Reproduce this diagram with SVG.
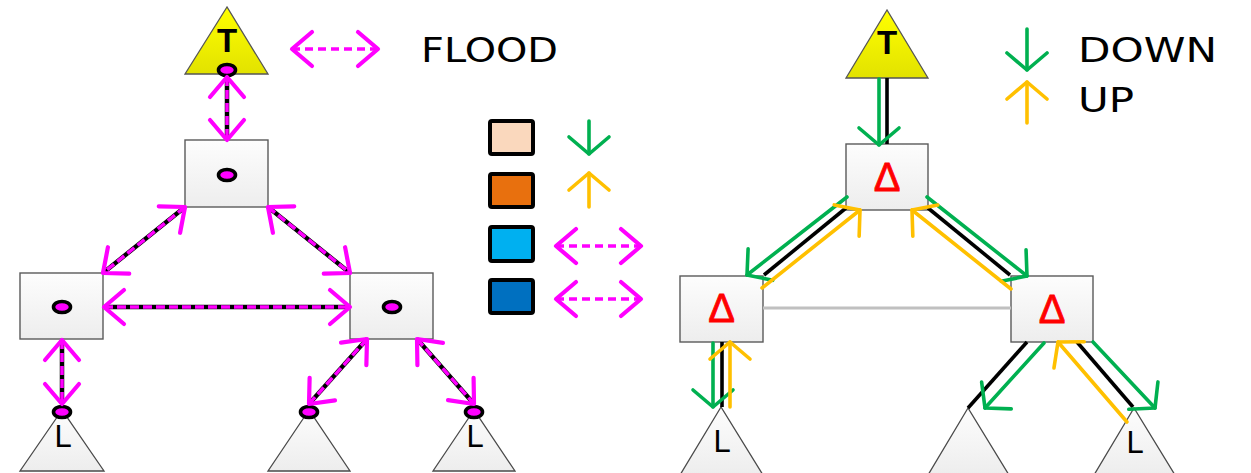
<svg xmlns="http://www.w3.org/2000/svg" width="1251" height="473" viewBox="0 0 1251 473">
  <defs>
    <linearGradient id="gBox" x1="0" y1="0" x2="0" y2="1">
      <stop offset="0" stop-color="#fdfdfd"/>
      <stop offset="1" stop-color="#ededed"/>
    </linearGradient>
    <linearGradient id="gTop" x1="0" y1="0" x2="0" y2="1">
      <stop offset="0" stop-color="#ffff00"/>
      <stop offset="1" stop-color="#e2e200"/>
    </linearGradient>
    <marker id="mMag" markerUnits="userSpaceOnUse" markerWidth="50" markerHeight="50" viewBox="-25 -25 50 50" refX="0" refY="0" orient="auto-start-reverse" overflow="visible">
      <path d="M-20,-17 L0,0 L-20,17" fill="none" stroke="#ff00ff" stroke-width="4.2" stroke-linecap="round" stroke-linejoin="round"/>
    </marker>
    <marker id="mGreen" markerUnits="userSpaceOnUse" markerWidth="50" markerHeight="50" viewBox="-25 -25 50 50" refX="0" refY="0" orient="auto" overflow="visible">
      <path d="M-17,-20 L0,0 L-17,20" fill="none" stroke="#00b050" stroke-width="3.6" stroke-linecap="round" stroke-linejoin="round"/>
    </marker>
    <marker id="mYellow" markerUnits="userSpaceOnUse" markerWidth="50" markerHeight="50" viewBox="-25 -25 50 50" refX="0" refY="0" orient="auto" overflow="visible">
      <path d="M-17,-20 L0,0 L-17,20" fill="none" stroke="#ffc000" stroke-width="3.6" stroke-linecap="round" stroke-linejoin="round"/>
    </marker>
    <style>
      .box { fill: url(#gBox); stroke: #5a5a5a; stroke-width: 1.4; }
      .tri { fill: url(#gBox); stroke: #4a4a4a; stroke-width: 1.3; }
      .top { fill: url(#gTop); stroke: #555; stroke-width: 1.3; }
      .dot { fill: #ff00ff; stroke: #000; stroke-width: 3.6; }
      .lbl { font-family: "Liberation Sans", Arial, sans-serif; fill: #000; text-anchor: middle; }
      .tb { font-weight: bold; font-size: 33px; }
      .lf { font-size: 31px; }
      .delta { font-family: "Liberation Sans", Arial, sans-serif; font-size: 40px; fill: #ff0000; stroke: #ff0000; stroke-width: 0.8; text-anchor: middle; }
      .word { font-family: "DejaVu Sans", "Liberation Sans", sans-serif; font-size: 34px; fill: #000; }
      .blk { stroke: #000; stroke-width: 4.5; fill: none; }
      .mag { stroke: #ff00ff; stroke-width: 3.5; stroke-dasharray: 9 4; fill: none; marker-start: url(#mMag); marker-end: url(#mMag); }
      .magleg { stroke: #ff00ff; stroke-width: 3.6; stroke-dasharray: 8 5; fill: none; marker-start: url(#mMag); marker-end: url(#mMag); }
      .rb { stroke: #000; stroke-width: 3.6; fill: none; }
      .dn { stroke: #00b050; stroke-width: 3.6; fill: none; stroke-linecap: round; marker-end: url(#mGreen); }
      .up { stroke: #ffc000; stroke-width: 3.6; fill: none; stroke-linecap: round; marker-end: url(#mYellow); }
      .gray { stroke: #c0c0c0; stroke-width: 3; fill: none; }
      .key { stroke: #000; stroke-width: 4; }
    </style>
  </defs>

  <rect width="1251" height="473" fill="#ffffff"/>

  <!-- Flood tree (left) -->
  <g id="flood-top">
    <polygon class="top" points="227,7 185,74 268,74"/>
    <text class="lbl tb" x="227" y="52">T</text>
    <ellipse class="dot" cx="227" cy="70" rx="8.5" ry="5.5"/>
  </g>
  <g id="flood-root">
    <rect class="box" x="185" y="140" width="83" height="67"/>
    <ellipse class="dot" cx="227" cy="175" rx="8.5" ry="5.5"/>
  </g>
  <g id="flood-left">
    <rect class="box" x="20" y="273" width="83" height="66"/>
    <ellipse class="dot" cx="62" cy="307" rx="8.5" ry="5.5"/>
  </g>
  <g id="flood-right">
    <rect class="box" x="350" y="273" width="83" height="66"/>
    <ellipse class="dot" cx="392" cy="307" rx="8.5" ry="5.5"/>
  </g>
  <g id="flood-leaf-a">
    <polygon class="tri" points="62,410 20,471 104,471"/>
    <text class="lbl lf" x="63" y="447">L</text>
    <ellipse class="dot" cx="62" cy="412" rx="8.5" ry="5.5"/>
  </g>
  <g id="flood-leaf-b">
    <polygon class="tri" points="309,410 268,471 350,471"/>
    <ellipse class="dot" cx="309" cy="412" rx="8.5" ry="5.5"/>
  </g>
  <g id="flood-leaf-c">
    <polygon class="tri" points="474,410 433,471 515,471"/>
    <text class="lbl lf" x="475" y="447">L</text>
    <ellipse class="dot" cx="474" cy="412" rx="8.5" ry="5.5"/>
  </g>

  <!-- Legend -->
  <g id="legend-flood">
    <line class="magleg" x1="292" y1="49" x2="378" y2="49"/>
    <text class="word" x="421" y="62" textLength="137" lengthAdjust="spacingAndGlyphs">FLOOD</text>
  </g>
  <g id="legend-keys">
    <rect class="key" x="490" y="121" width="43" height="33" rx="2" fill="#fad8bd"/>
    <rect class="key" x="490" y="174" width="43" height="33" rx="2" fill="#e8700e"/>
    <rect class="key" x="490" y="227" width="43" height="34" rx="2" fill="#00b0f0"/>
    <rect class="key" x="490" y="280" width="43" height="33" rx="2" fill="#0070c0"/>
    <line class="dn" x1="589" y1="121" x2="589" y2="154"/>
    <line class="up" x1="589" y1="207" x2="589" y2="173"/>
    <line class="magleg" x1="556" y1="246" x2="641" y2="246"/>
    <line class="magleg" x1="556" y1="299" x2="641" y2="299"/>
  </g>
  <g id="legend-dirs">
    <line class="dn" x1="1027" y1="29" x2="1027" y2="70"/>
    <line class="up" x1="1027" y1="123" x2="1027" y2="82"/>
    <text class="word" x="1078" y="62" textLength="139" lengthAdjust="spacingAndGlyphs">DOWN</text>
    <text class="word" x="1078" y="112" textLength="56" lengthAdjust="spacingAndGlyphs">UP</text>
  </g>

  <!-- Delta tree (right) -->
  <g id="delta-top">
    <polygon class="top" points="887,10 846,78 928,78"/>
    <text class="lbl tb" x="887" y="54" font-size="31">T</text>
  </g>
  <g id="delta-root">
    <rect class="box" x="846" y="144" width="82" height="66"/>
    <text class="delta" x="887" y="191">Δ</text>
  </g>
  <g id="delta-left">
    <rect class="box" x="680" y="276" width="83" height="66"/>
    <text class="delta" x="721.5" y="322">Δ</text>
  </g>
  <g id="delta-right">
    <rect class="box" x="1011" y="276" width="82" height="66"/>
    <text class="delta" x="1052" y="323">Δ</text>
  </g>
  <g id="delta-leaf-a">
    <polygon class="tri" points="721,407 680,475 763,475"/>
    <text class="lbl lf" x="722" y="452">L</text>
  </g>
  <g id="delta-leaf-b">
    <polygon class="tri" points="968,408 928,475 1009,475"/>
  </g>
  <g id="delta-leaf-c">
    <polygon class="tri" points="1134,408 1094,475 1175,475"/>
    <text class="lbl lf" x="1135" y="453">L</text>
  </g>

  <!-- Connectors -->
  <g id="connectors">
    <!-- flood edges: black line under dashed magenta -->
    <g id="flood-edges">
      <line class="blk" x1="227" y1="77" x2="227" y2="140"/>
      <line class="mag" x1="227" y1="77" x2="227" y2="140"/>
      <line class="blk" x1="185" y1="207" x2="103" y2="273"/>
      <line class="mag" x1="185" y1="207" x2="103" y2="273"/>
      <line class="blk" x1="268" y1="207" x2="350" y2="273"/>
      <line class="mag" x1="268" y1="207" x2="350" y2="273"/>
      <line class="blk" x1="104" y1="307" x2="350" y2="307"/>
      <line class="mag" x1="104" y1="307" x2="350" y2="307"/>
      <line class="blk" x1="62" y1="340" x2="62" y2="404"/>
      <line class="mag" x1="62" y1="340" x2="62" y2="404"/>
      <line class="blk" x1="367" y1="339" x2="309" y2="404"/>
      <line class="mag" x1="367" y1="339" x2="309" y2="404"/>
      <line class="blk" x1="417" y1="339" x2="474" y2="404"/>
      <line class="mag" x1="417" y1="339" x2="474" y2="404"/>
    </g>
    <!-- delta edges: black link with down/up traffic alongside -->
    <g id="delta-edges">
      <line class="gray" x1="763" y1="308" x2="1011" y2="308"/>

      <line class="rb" x1="887" y1="78" x2="887" y2="144"/>
      <line class="dn" x1="879" y1="79" x2="879" y2="145"/>

      <line class="rb" x1="846" y1="208" x2="764" y2="275"/>
      <line class="dn" x1="847" y1="197" x2="747" y2="275"/>
      <line class="up" x1="762" y1="288" x2="860" y2="210"/>

      <line class="rb" x1="928" y1="208" x2="1010" y2="275"/>
      <line class="dn" x1="927" y1="197" x2="1027" y2="276"/>
      <line class="up" x1="1011" y1="289" x2="912" y2="210"/>

      <line class="rb" x1="722" y1="342" x2="722" y2="407"/>
      <line class="dn" x1="713" y1="343" x2="713" y2="407"/>
      <line class="up" x1="730" y1="407" x2="730" y2="342"/>

      <line class="rb" x1="1027" y1="342" x2="968" y2="408"/>
      <line class="dn" x1="1044" y1="343" x2="985" y2="408"/>

      <line class="rb" x1="1077" y1="342" x2="1133" y2="407"/>
      <line class="dn" x1="1093" y1="342" x2="1155" y2="408"/>
      <line class="up" x1="1127" y1="422" x2="1058" y2="342"/>
    </g>
  </g>
</svg>
